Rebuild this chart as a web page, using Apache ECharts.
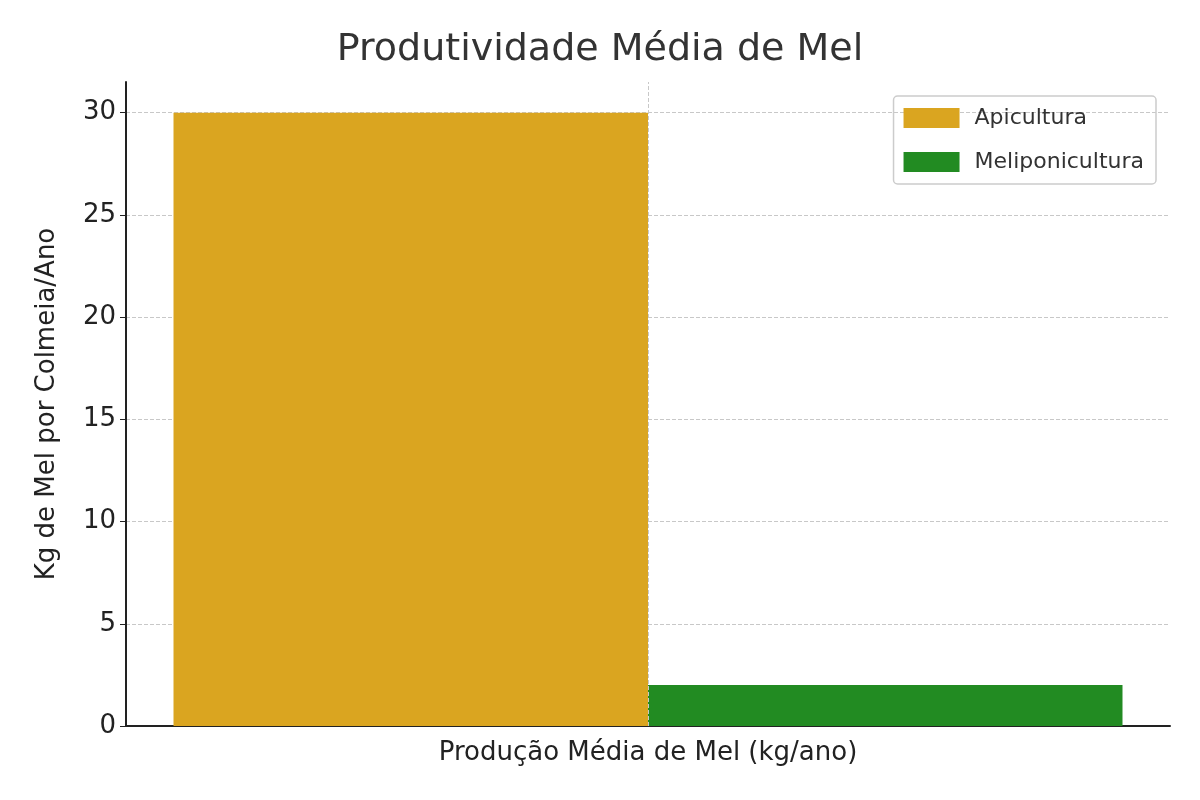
<!DOCTYPE html>
<html><head><meta charset="utf-8">
<script src="https://cdn.jsdelivr.net/npm/echarts@6/dist/echarts.min.js"></script>
<style>html,body{margin:0;padding:0;background:#fff}#c{width:1200px;height:800px}</style>
</head><body><div id="c"></div>
<script>
const categories = ['Produção Média de Mel (kg/ano)'];
const seriesNames = ['Apicultura', 'Meliponicultura'];
const apicultura = [30];
const meliponicultura = [2];
const colors = ['#DAA520', '#228B22'];
const font = 'DejaVu Sans';
const chart = echarts.init(document.getElementById('c'));
chart.setOption({
  animation: false,
  textStyle: { fontFamily: font },
  title: { text: 'Produtividade Média de Mel', left: 'center', top: 26,
    textStyle: { fontSize: 38, fontWeight: 'normal', color: '#333', fontFamily: font } },
  legend: { right: 44, top: 96, orient: 'vertical', itemWidth: 56, itemHeight: 20, itemGap: 22,
    icon: 'rect',
    padding: [11, 12, 11, 10], borderColor: '#ccc', borderWidth: 1.5, borderRadius: 4,
    textStyle: { fontSize: 22, color: '#333', fontFamily: font, padding: [0,0,0,10] },
    data: seriesNames },
  grid: { left: 126, right: 30, top: 82, bottom: 74, containLabel: false },
  xAxis: { type: 'category', data: categories,
    axisLine: { lineStyle: { color: '#222', width: 2 } },
    axisTick: { alignWithLabel: true, length: 6, lineStyle: { color: '#222' } },
    axisLabel: { show: false },
    name: categories[0], nameLocation: 'middle', nameGap: 14,
    nameTextStyle: { fontSize: 26, color: '#222', fontFamily: font, verticalAlign: 'top' } },
  yAxis: { type: 'value', min: 0, max: 31.5, interval: 5,
    axisLine: { show: true, lineStyle: { color: '#222', width: 2 } },
    axisTick: { show: true, length: 6, lineStyle: { color: '#222' } },
    axisLabel: { fontSize: 26, color: '#222', showMaxLabel: false, margin: 10 },
    splitLine: { showMaxLine: false, lineStyle: { type: 'dashed', color: '#c8c8c8' } },
    name: 'Kg de Mel por Colmeia/Ano', nameLocation: 'middle', nameGap: 66,
    nameTextStyle: { fontSize: 26, color: '#222', fontFamily: font } },
  series: [
    { name: seriesNames[0], type: 'bar', data: apicultura, barGap: '0%', barCategoryGap: '9.1%',
      itemStyle: { color: colors[0] } },
    { name: seriesNames[1], type: 'bar', data: meliponicultura, itemStyle: { color: colors[1] } },
    { name: 'grid', type: 'line', data: [], z: 5,
      markLine: { silent: true, symbol: 'none', label: { show: false },
        lineStyle: { type: 'dashed', color: '#c8c8c8', width: 1 },
        data: [{ xAxis: categories[0] }] } }
  ]
});
</script></body></html>
